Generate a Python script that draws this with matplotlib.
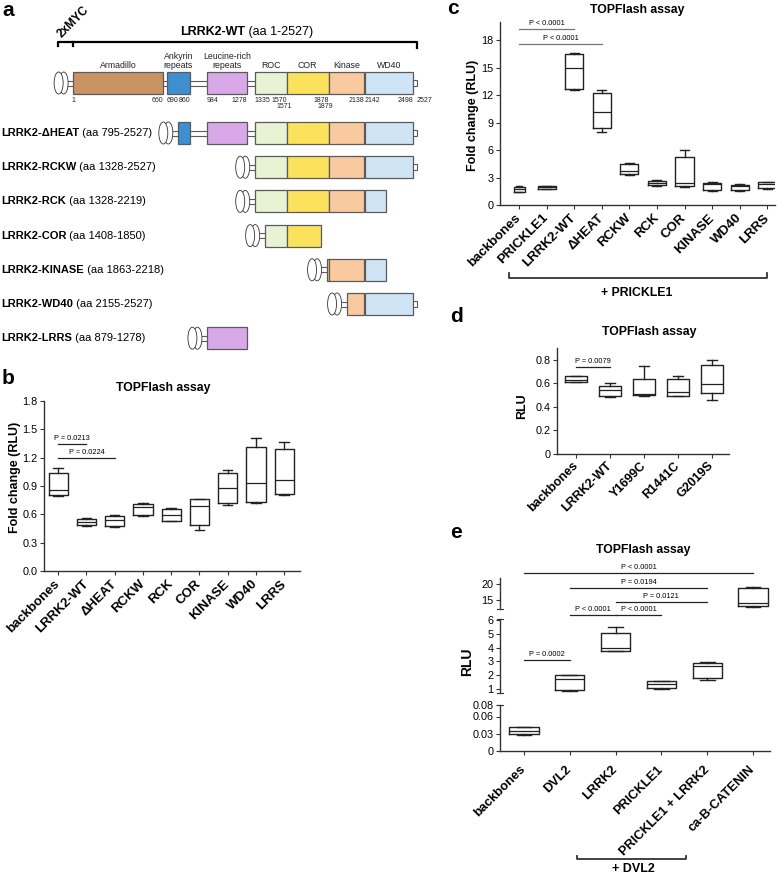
import numpy as np
import matplotlib.pyplot as plt
from matplotlib.patches import Rectangle, Ellipse
from matplotlib.lines import Line2D

plt.rcParams['font.family'] = ['Liberation Sans', 'DejaVu Sans']

W, H = 778, 874

# ---------------- panel a: LRRK2 domains (aa) ----------------
dom_names = ['Armadillo', 'Ankyrin\nrepeats', 'Leucine-rich\nrepeats', 'ROC', 'COR', 'Kinase', 'WD40']
dom_start = [1, 690, 984, 1335, 1571, 1879, 2142]
dom_end = [660, 860, 1278, 1570, 1878, 2138, 2498]
dom_colors = ['#c99463', '#3d8fd1', '#d9a8e8', '#e8f3d3', '#fce15c', '#f9c9a0', '#cfe5f6']
wt_len = 2527
aa_marks = [1, 660, 690, 860, 984, 1278, 1335, 1570, 1878, 2138, 2142, 2498, 2527]
aa_marks_low = [1571, 1879]

con_bold = ['LRRK2-ΔHEAT', 'LRRK2-RCKW', 'LRRK2-RCK', 'LRRK2-COR',
            'LRRK2-KINASE', 'LRRK2-WD40', 'LRRK2-LRRS']
con_range = ['(aa 795-2527)', '(aa 1328-2527)', '(aa 1328-2219)', '(aa 1408-1850)',
             '(aa 1863-2218)', '(aa 2155-2527)', '(aa 879-1278)']
# drawn extent of each construct as read from the schematic
con_from = [770, 1328, 1328, 1408, 1863, 2010, 879]
con_to = [2527, 2527, 2300, 1820, 2300, 2527, 1278]

# ---------------- panel b ----------------
b_cats = ['backbones', 'LRRK2-WT', 'ΔHEAT', 'RCKW', 'RCK', 'COR', 'KINASE', 'WD40', 'LRRS']
b_min = [0.795, 0.48, 0.47, 0.586, 0.529, 0.438, 0.699, 0.716, 0.805]
b_q1 = [0.80, 0.49, 0.476, 0.596, 0.533, 0.487, 0.716, 0.734, 0.812]
b_med = [0.858, 0.522, 0.536, 0.678, 0.589, 0.688, 0.875, 0.928, 0.964]
b_q3 = [1.034, 0.555, 0.582, 0.71, 0.653, 0.762, 1.034, 1.316, 1.288]
b_max = [1.087, 0.56, 0.593, 0.716, 0.664, 0.762, 1.069, 1.405, 1.362]
b_p_from = [0, 0]
b_p_to = [1, 2]
b_p_y = [1.345, 1.193]
b_p_txt = ['P = 0.0213', 'P = 0.0224']

# ---------------- panel c ----------------
c_cats = ['backbones', 'PRICKLE1', 'LRRK2-WT', 'ΔHEAT', 'RCKW', 'RCK', 'COR', 'KINASE', 'WD40', 'LRRS']
c_min = [1.38, 1.75, 12.5, 8.0, 3.27, 2.07, 2.0, 1.56, 1.56, 1.75]
c_q1 = [1.45, 1.78, 12.7, 8.4, 3.35, 2.18, 2.07, 1.64, 1.64, 1.82]
c_med = [1.75, 1.93, 14.9, 10.2, 3.75, 2.44, 2.44, 2.29, 2.1, 2.29]
c_q3 = [2.0, 2.07, 16.5, 12.2, 4.47, 2.62, 5.2, 2.36, 2.22, 2.47]
c_max = [2.07, 2.1, 16.55, 12.6, 4.55, 2.73, 6.0, 2.47, 2.29, 2.55]
c_p_from = [0, 0]
c_p_to = [2, 3]
c_p_y = [19.16, 17.6]
c_p_txt = ['P < 0.0001', 'P < 0.0001']

# ---------------- panel d ----------------
d_cats = ['backbones', 'LRRK2-WT', 'Y1699C', 'R1441C', 'G2019S']
d_min = [0.608, 0.483, 0.496, 0.489, 0.461]
d_q1 = [0.611, 0.489, 0.498, 0.489, 0.514]
d_med = [0.630, 0.540, 0.509, 0.523, 0.591]
d_q3 = [0.659, 0.574, 0.639, 0.639, 0.755]
d_max = [0.664, 0.602, 0.743, 0.664, 0.80]

# ---------------- panel e ----------------
e_cats = ['backbones', 'DVL2', 'LRRK2', 'PRICKLE1', 'PRICKLE1 + LRRK2', 'ca-B-CATENIN']
e_min = [0.0278, 0.88, 3.72, 1.0, 1.67, 12.9]
e_q1 = [0.029, 0.95, 3.72, 1.07, 1.79, 13.1]
e_med = [0.0355, 1.72, 3.96, 1.36, 2.63, 14.15]
e_q3 = [0.0414, 1.99, 5.09, 1.55, 2.875, 18.9]
e_max = [0.0426, 2.01, 5.47, 1.6, 2.92, 19.04]
# P-value bars: segment 0 = upper, 1 = middle
e_p_seg = [0, 0, 0, 1, 1, 1]
e_p_from = [0, 1, 2, 1, 2, 0]
e_p_to = [5, 4, 4, 2, 3, 1]
e_p_y = [23.5, 18.7, 14.47, 6.34, 6.34, 3.12]
e_p_txt = ['P < 0.0001', 'P = 0.0194', 'P = 0.0121', 'P < 0.0001', 'P < 0.0001', 'P = 0.0002']


fig = plt.figure(figsize=(W / 100, H / 100), dpi=100)


def px_axes(x0, y0, x1, y1):
    return fig.add_axes([x0 / W, 1 - y1 / H, (x1 - x0) / W, (y1 - y0) / H])


def ftext(x, y, s, **kw):
    return fig.text(x / W, 1 - y / H, s, **kw)


def fline(xs, ys, **kw):
    fig.add_artist(Line2D([x / W for x in xs], [1 - y / H for y in ys],
                          transform=fig.transFigure, **kw))


# ======== panel a ========
K = (413 - 73) / 2498  # px per aa


def px2aa(p):
    return p / K


axa = px_axes(0, 0, 440, 355)
axa.set_xlim(-73 / K, (440 - 73) / K)
axa.set_ylim(355, 0)
axa.axis('off')

EC = '#5a5a5a'


def draw_construct(ax, a0, a1, y, h=22):
    pieces = []
    for s, e, c in zip(dom_start, dom_end, dom_colors):
        s2, e2 = max(s, a0), min(e, a1)
        if e2 > s2:
            pieces.append((s2, e2, c))
    for (s1, e1, _), (s2, e2, _) in zip(pieces[:-1], pieces[1:]):
        if s2 - e1 > 5:
            for dy in (-2.5, 2.5):
                ax.plot([e1, s2], [y + dy, y + dy], color=EC, lw=0.8)
    for s, e, c in pieces:
        ax.add_patch(Rectangle((s, y - h / 2), e - s, h, fc=c, ec=EC, lw=0.9))
    if a1 > dom_end[-1]:
        ax.add_patch(Rectangle((dom_end[-1], y - 3), a1 - dom_end[-1], 6,
                               fc='white', ec=EC, lw=0.8))
    x0 = pieces[0][0]
    link = px2aa(5)
    for dy in (-2.5, 2.5):
        ax.plot([x0 - link, x0], [y + dy, y + dy], color=EC, lw=0.8)
    for off in (4.5, 9.5):
        ax.add_patch(Ellipse((x0 - link - px2aa(off), y), px2aa(9), h,
                             fc='white', ec='#333333', lw=0.6))


# WT row
wt_y = 83
draw_construct(axa, 1, wt_len, wt_y)
for name, s, e in zip(dom_names, dom_start, dom_end):
    axa.text((s + e) / 2, 70, name, ha='center', va='bottom', fontsize=6.3,
             linespacing=0.95, color='#222222')
mark_ha = ['center', 'right', 'left', 'right', 'left', 'right', 'left',
           'right', 'right', 'right', 'left', 'right', 'left']
for m, ha in zip(aa_marks, mark_ha):
    axa.text(m, 100, str(m), ha=ha, va='center', fontsize=5.0, color='#222222')
for m in aa_marks_low:
    axa.text(m - px2aa(3), 107, str(m), ha='center', va='center', fontsize=5.0, color='#222222')

# bracket for full-length construct + 2xMYC
axa.plot([px2aa(58 - 73), px2aa(58 - 73), wt_len, wt_len], [46, 42, 42, 48], color='black', lw=1.6)
axa.plot([px2aa(0), px2aa(0)], [42, 46], color='black', lw=1.6)
axa.text(px2aa(64 - 73), 40, '2xMYC', rotation=45, rotation_mode='anchor',
         ha='left', va='bottom', fontsize=8.5, fontweight='bold')
t = axa.text(px2aa(245 - 73), 38, 'LRRK2-WT', ha='right', va='bottom', fontsize=9, fontweight='bold')
axa.annotate(' (aa 1-2527)', xy=(1, 0), xycoords=t, ha='left', va='bottom', fontsize=9)

row_y = [133 + i * 34.2 for i in range(len(con_bold))]
for nb, rng, a0, a1, y in zip(con_bold, con_range, con_from, con_to, row_y):
    draw_construct(axa, a0, a1, y)
    t = axa.text(px2aa(1 - 73), y, nb, ha='left', va='center', fontsize=8.0, fontweight='bold')
    axa.annotate(' ' + rng, xy=(1, 0), xycoords=t, ha='left', va='bottom', fontsize=8.0)


# ======== box plot helpers ========
BOXC = '#222222'


def draw_boxes(ax, mins, q1s, meds, q3s, maxs, widths, color=BOXC):
    stats = [dict(whislo=a, q1=b, med=c, q3=d, whishi=e)
             for a, b, c, d, e in zip(mins, q1s, meds, q3s, maxs)]
    widths = np.broadcast_to(widths, len(stats))
    ax.bxp(stats, positions=np.arange(len(stats)), widths=list(widths),
           capwidths=list(widths * 0.5), showfliers=False, manage_ticks=False,
           boxprops=dict(color=color, lw=1.0), medianprops=dict(color=color, lw=0.9),
           whiskerprops=dict(color=color, lw=1.0), capprops=dict(color=color, lw=1.0))


def style_axes(ax, cats, ylab=None, fs_x=9.5, pad=5):
    for s in ('top', 'right'):
        ax.spines[s].set_visible(False)
    for s in ('left', 'bottom'):
        ax.spines[s].set_linewidth(1.0)
        ax.spines[s].set_color('#333333')
    ax.tick_params(axis='y', labelsize=7.8, length=3, width=0.8, pad=1.5, color='#333333')
    ax.tick_params(axis='x', length=3, width=0.8, pad=pad, color='#333333')
    ax.set_xticks(np.arange(len(cats)))
    ax.set_xticklabels(cats, rotation=45, ha='right', va='center', rotation_mode='anchor',
                       fontweight='bold', fontsize=fs_x)
    if ylab:
        ax.set_ylabel(ylab, fontweight='bold', fontsize=9)


def p_bars(ax, froms, tos, ys, txts, color='#222222', fs=5.3):
    for a, b, y, s in zip(froms, tos, ys, txts):
        ax.plot([a, b], [y, y], color=color, lw=0.9, clip_on=False)
        ax.annotate(s, xy=((a + b) / 2, y), xytext=(0, 1.5), textcoords='offset points',
                    ha='center', va='bottom', fontsize=fs, annotation_clip=False)


# ======== panel b ========
axb = px_axes(44, 401, 300, 571)
draw_boxes(axb, b_min, b_q1, b_med, b_q3, b_max, 0.68)
axb.set_xlim(-0.5, 8.56)
axb.set_ylim(0, 1.8)
axb.set_yticks(np.arange(0, 1.81, 0.3))
axb.set_yticklabels(['%.1f' % v for v in np.arange(0, 1.81, 0.3)])
style_axes(axb, b_cats, 'Fold change (RLU)')
axb.yaxis.set_label_coords(-0.09, 0.55)
p_bars(axb, b_p_from, b_p_to, b_p_y, b_p_txt)

# ======== panel c ========
axc = px_axes(500, 21.7, 775, 205)
draw_boxes(axc, c_min, c_q1, c_med, c_q3, c_max, np.array([0.4] + [0.66] * 9))
axc.set_xlim(-0.69, 9.28)
axc.set_ylim(0, 20)
axc.set_yticks(np.arange(0, 19, 3))
style_axes(axc, c_cats, 'Fold change (RLU)')
axc.yaxis.set_label_coords(-0.075, 0.49)
p_bars(axc, c_p_from, c_p_to, c_p_y, c_p_txt, color='#777777')
fline([509, 509, 767, 767], [273, 278, 278, 273], color='#333333', lw=1.3)
ftext(637, 293, '+ PRICKLE1', ha='center', va='center', fontsize=8.8, fontweight='bold')

# ======== panel d ========
axd = px_axes(557, 348, 729, 454)
draw_boxes(axd, d_min, d_q1, d_med, d_q3, d_max, 0.64)
axd.set_xlim(-0.56, 4.5)
axd.set_ylim(0, 0.9)
axd.set_yticks([0, 0.2, 0.4, 0.6, 0.8])
axd.set_yticklabels(['0', '0.2', '0.4', '0.6', '0.8'])
style_axes(axd, d_cats, 'RLU', fs_x=9, pad=4)
axd.yaxis.set_label_coords(-0.17, 0.45)
p_bars(axd, [0], [1], [0.738], ['P = 0.0079'])

# ======== panel e (broken y axis) ========
axe_top = px_axes(500, 577.5, 770, 608.5)
axe_mid = px_axes(500, 619, 770, 693)
axe_bot = px_axes(500, 705, 770, 751)
for ax, lim in ((axe_top, (12.3, 22.1)), (axe_mid, (0.71, 6.07)), (axe_bot, (0, 0.08))):
    draw_boxes(ax, e_min, e_q1, e_med, e_q3, e_max, 0.64)
    ax.set_xlim(-0.52, 5.37)
    ax.set_ylim(*lim)
style_axes(axe_bot, e_cats, fs_x=9.3, pad=9)
for ax in (axe_top, axe_mid):
    style_axes(ax, e_cats)
    ax.spines['bottom'].set_visible(False)
    ax.set_xticks([])
axe_top.set_yticks([15, 20])
axe_mid.set_yticks([1, 2, 3, 4, 5, 6])
axe_bot.set_yticks([0, 0.03, 0.06, 0.08])
axe_bot.set_yticklabels(['0', '0.03', '0.06', '0.08'])
# small break marks on the spine
for y in (608.5, 619, 693, 705):
    fline([497, 503], [y, y], color='#333333', lw=0.8)
seg_axes = [axe_top, axe_mid]
for seg, a, b, y, s in zip(e_p_seg, e_p_from, e_p_to, e_p_y, e_p_txt):
    p_bars(seg_axes[seg], [a], [b], [y], [s])
ftext(467, 662, 'RLU', rotation=90, ha='center', va='center', fontsize=10, fontweight='bold')
fline([577, 577, 686, 686], [856, 858.5, 858.5, 856], color='#333333', lw=1.3)
ftext(633, 869, '+ DVL2', ha='center', va='center', fontsize=9, fontweight='bold')

# titles and panel letters
for x, y in ((163, 388), (637, 10), (649, 332), (643, 550)):
    ftext(x, y, 'TOPFlash assay', ha='center', va='center', fontsize=8.8, fontweight='bold')
for s, x, y in (('a', 2, 10), ('b', 2, 378), ('c', 447, 8), ('d', 450, 317), ('e', 450, 533)):
    ftext(x, y, s, ha='left', va='center', fontsize=15, fontweight='bold')

fig.savefig('out.png', dpi=100)
